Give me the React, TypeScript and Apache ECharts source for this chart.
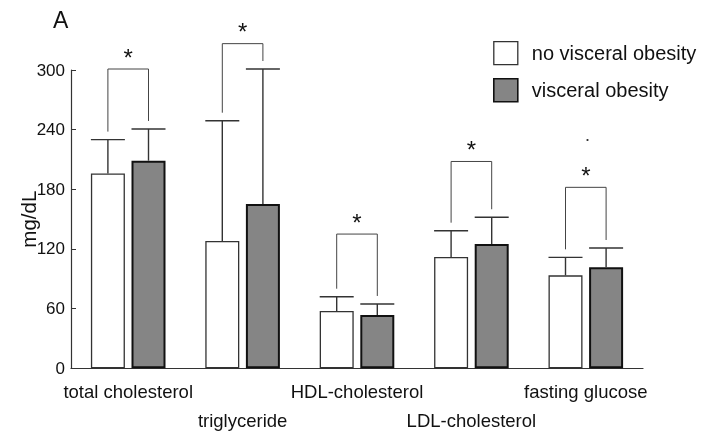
import React, { useEffect, useRef } from "react";
import * as echarts from "echarts";

const categories = ["total cholesterol", "triglyceride", "HDL-cholesterol", "LDL-cholesterol", "fasting glucose"];
const seriesNames = ["no visceral obesity", "visceral obesity"];
const noObesityMean = [196, 128, 57.6, 112, 93.5];
const noObesityUpper = [230, 249, 72, 138.4, 111.6];
const obesityMean = [208.8, 165.2, 53.6, 125, 101.6];
const obesityUpper = [240.7, 301, 64.7, 151.9, 121];
const bracketLevel = [301, 326.5, 135, 208, 182];
const yTicks = [0, 60, 120, 180, 240, 300];

const FONT = "'Liberation Sans', Arial, Helvetica, sans-serif";
const BAR_W = 34;
const GAP = 6.6;
const OFF = BAR_W / 2 + GAP / 2;
const LEG_GAP = 8;

export default function App() {
  const ref = useRef<HTMLDivElement>(null);
  useEffect(() => {
    if (!ref.current) return;
    const chart = echarts.init(ref.current, null, { renderer: "svg" });

    const errData = (means: number[], uppers: number[]) =>
      categories.map((_, i) => [i, means[i], uppers[i]]);

    const errSeries = (name: string, means: number[], uppers: number[], sign: number) => ({
      type: "custom",
      name: name + " SD",
      silent: true,
      data: errData(means, uppers),
      encode: { x: 0, y: 1 },
      z: 3,
      renderItem: (params: any, api: any) => {
        const ci = api.value(0);
        const m = api.coord([ci, api.value(1)]);
        const u = api.coord([ci, api.value(2)]);
        const x = m[0] + sign * OFF;
        return {
          type: "group",
          children: [
            { type: "line", shape: { x1: x, y1: m[1], x2: x, y2: u[1] }, style: { stroke: "#333", lineWidth: 1.4 } },
            { type: "line", shape: { x1: x - BAR_W / 2, y1: u[1], x2: x + BAR_W / 2, y2: u[1] }, style: { stroke: "#333", lineWidth: 1.4 } },
          ],
        };
      },
    });

    const bracketData = categories.map((_, i) => [i, bracketLevel[i], noObesityUpper[i], obesityUpper[i]]);

    const option: any = {
      animation: false,
      textStyle: { fontFamily: FONT },
      grid: { left: 71, right: 58, top: 70, bottom: 64.7, outerBoundsMode: "none", containLabel: false },
      legend: {
        orient: "vertical",
        left: 493,
        top: 41,
        padding: 0,
        itemWidth: 24,
        itemHeight: 23,
        itemGap: 12.7,
        textStyle: { fontSize: 20, color: "#111", fontFamily: FONT, padding: [0, 0, 0, 9] },
        data: [
          { name: seriesNames[0], icon: "rect", itemStyle: { color: "#fff", borderColor: "#333", borderWidth: 1.3 } },
          { name: seriesNames[1], icon: "rect", itemStyle: { color: "#858585", borderColor: "#111", borderWidth: 1.6 } },
        ],
      },
      xAxis: {
        type: "category",
        data: categories,
        boundaryGap: true,
        axisLine: { lineStyle: { color: "#333", width: 1.2 } },
        axisTick: { inside: true, length: 5, lineStyle: { color: "#333" } },
        axisLabel: {
          interval: 0,
          margin: 8,
          fontSize: 18.5,
          color: "#111",
          lineHeight: 29.5,
          fontFamily: FONT,
          formatter: (v: string, i: number) => (i % 2 ? "\n" + v : v),
        },
      },
      yAxis: {
        type: "value",
        min: yTicks[0],
        max: yTicks[yTicks.length - 1],
        interval: 60,
        name: "mg/dL",
        nameLocation: "middle",
        nameRotate: 90,
        nameGap: 32,
        nameMoveOverlap: false,
        nameTextStyle: { fontSize: 20.5, color: "#111", fontFamily: FONT },
        splitLine: { show: false },
        axisLine: { show: true, lineStyle: { color: "#333", width: 1.2 } },
        axisTick: { show: true, inside: true, length: 5, lineStyle: { color: "#333" } },
        axisLabel: { fontSize: 17, color: "#111", margin: 6, fontFamily: FONT },
      },
      series: [
        {
          type: "bar",
          name: seriesNames[0],
          data: noObesityMean,
          barWidth: BAR_W,
          barGap: (GAP / BAR_W) * 100 + "%",
          itemStyle: { color: "#fff", borderColor: "#333", borderWidth: 1.3 },
        },
        {
          type: "bar",
          name: seriesNames[1],
          data: obesityMean,
          barWidth: BAR_W,
          itemStyle: { color: "#858585", borderColor: "#111", borderWidth: 2 },
        },
        errSeries(seriesNames[0], noObesityMean, noObesityUpper, -1),
        errSeries(seriesNames[1], obesityMean, obesityUpper, 1),
        {
          type: "custom",
          name: "significance",
          silent: true,
          data: bracketData,
          encode: { x: 0, y: 1 },
          z: 4,
          renderItem: (params: any, api: any) => {
            const ci = api.value(0);
            const top = api.coord([ci, api.value(1)]);
            const a = api.coord([ci, api.value(2)]);
            const b = api.coord([ci, api.value(3)]);
            const xl = top[0] - OFF;
            const xr = top[0] + OFF;
            return {
              type: "group",
              children: [
                {
                  type: "polyline",
                  shape: { points: [[xl, a[1] - LEG_GAP], [xl, top[1]], [xr, top[1]], [xr, b[1] - LEG_GAP]] },
                  style: { stroke: "#444", lineWidth: 1, fill: null },
                },
                {
                  type: "text",
                  x: top[0],
                  y: top[1] - 12,
                  style: { text: "*", fontSize: 24, fontFamily: FONT, fill: "#111", align: "center", verticalAlign: "middle" },
                },
              ],
            };
          },
        },
      ],
      graphic: [
        { type: "text", left: 53, top: 8, style: { text: "A", fontSize: 23, fill: "#111", fontFamily: FONT } },
        { type: "circle", shape: { cx: 587.5, cy: 140, r: 1.1 }, style: { fill: "#333" } },
      ],
    };
    chart.setOption(option);
    return () => chart.dispose();
  }, []);
  return <div ref={ref} style={{ position: "fixed", left: 0, top: 0, width: 701, height: 433 }} />;
}
